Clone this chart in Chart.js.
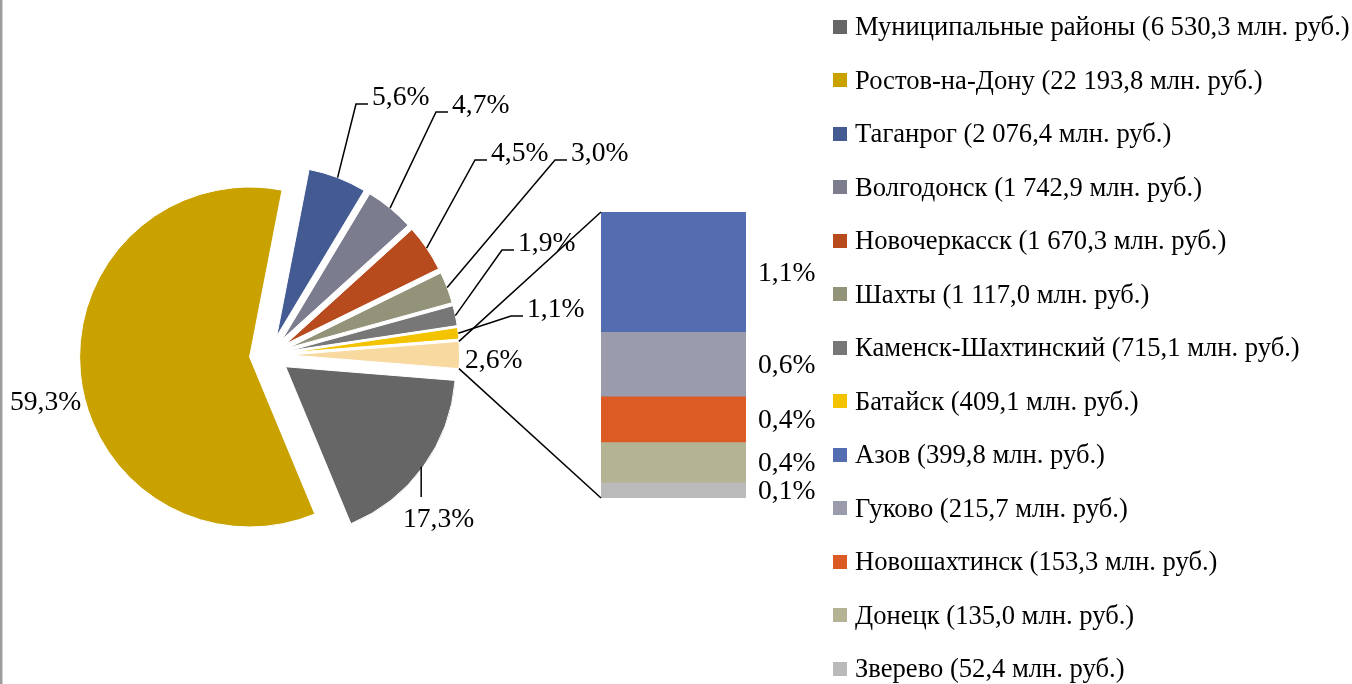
<!DOCTYPE html>
<html>
<head>
<meta charset="utf-8">
<script src="https://cdn.jsdelivr.net/npm/chart.js@4.4.1/dist/chart.umd.min.js"></script>
<style>
  body { margin: 0; background: #fff; }
  #wrap { position: relative; width: 1352px; height: 684px; overflow: hidden; background: #fff; }
  #wrap canvas { position: absolute; left: 0; top: 0; }
  #edge { position: absolute; left: 0; top: 0; width: 2px; height: 684px; background: #9d9d9d; border-right: 1px solid #d0d0d0; }
  #legend { position: absolute; left: 833px; top: 0; font-family: 'Liberation Serif', 'Times New Roman', serif; font-size: 26.6px; color: #000; }
  #legend .row { height: 53.5px; display: flex; align-items: center; white-space: nowrap; }
  #legend .box { width: 14px; height: 14px; margin-right: 8px; flex: none; }
</style>
</head>
<body>
<div id="wrap">
  <div id="edge"></div>
  <canvas id="pie" width="1352" height="684"></canvas>
  <canvas id="bar" width="1352" height="684"></canvas>
  <div id="legend"></div>
</div>
<script>
// main pie: cities and districts, mln rub
const pieNames = ['Муниципальные районы', 'Ростов-на-Дону', 'Таганрог', 'Волгодонск', 'Новочеркасск', 'Шахты', 'Каменск-Шахтинский', 'Батайск'];
const pieValues = [6530.3, 22193.8, 2076.4, 1742.9, 1670.3, 1117.0, 715.1, 409.1];
const pieColors = ['#666666', '#caa200', '#435a92', '#7b7d8e', '#b84b1e', '#939379', '#777777', '#f3c300'];
// small cities, shown in the bar
const barNames = ['Азов', 'Гуково', 'Новошахтинск', 'Донецк', 'Зверево'];
const barValues = [399.8, 215.7, 153.3, 135.0, 52.4];
const barColors = ['#536db0', '#9a9bac', '#dc5a24', '#b4b495', '#bababa'];
const otherColor = '#f8d9a0';
// percent labels as printed on the chart
const piePct = ['17,3%', '59,3%', '5,6%', '4,7%', '4,5%', '3,0%', '1,9%', '1,1%', '2,6%'];
const barPct = ['1,1%', '0,6%', '0,4%', '0,4%', '0,1%'];

// label placement: text x, baseline y, leader kind
const pieLabelPos = [
  [403, 527, 'v'], [10, 410, ''], [372, 105, 'h'], [452, 113, 'h'],
  [491, 161, 'h'], [571, 161, 'h'], [518, 251, 'h'], [527, 317, 'h'], [465, 368, '']
];

const labelFont = "27.6px 'Liberation Serif', 'Times New Roman', serif";
const explode = 20;

const otherTotal = barValues.reduce((a, b) => a + b, 0);
const allValues = pieValues.concat([otherTotal]);
const total = allValues.reduce((a, b) => a + b, 0);

function fmt(v) {
  const parts = v.toFixed(1).split('.');
  return parts[0].replace(/\B(?=(\d{3})+(?!\d))/g, ' ') + ',' + parts[1];
}

// legend
const legend = document.getElementById('legend');
pieNames.concat(barNames).forEach(function(name, i) {
  const val = i < pieNames.length ? pieValues[i] : barValues[i - pieNames.length];
  const col = i < pieNames.length ? pieColors[i] : barColors[i - pieNames.length];
  const row = document.createElement('div');
  row.className = 'row';
  row.innerHTML = '<span class="box" style="background:' + col + '"></span>' + name + ' (' + fmt(val) + ' млн. руб.)';
  legend.appendChild(row);
});

const explodePlugin = {
  id: 'explode',
  afterDatasetUpdate(chart, args) {
    args.meta.data.forEach(function(el) {
      const mid = (el.startAngle + el.endAngle) / 2;
      el.x += explode * Math.cos(mid);
      el.y += explode * Math.sin(mid);
    });
  }
};

const pieLabelPlugin = {
  id: 'pieLabels',
  afterDatasetsDraw(chart) {
    const ctx = chart.ctx;
    const arcs = chart.getDatasetMeta(0).data;
    ctx.save();
    ctx.strokeStyle = '#000';
    ctx.lineWidth = 1.5;
    ctx.font = labelFont;
    ctx.fillStyle = '#000';
    ctx.textBaseline = 'alphabetic';
    arcs.forEach(function(el, i) {
      const p = pieLabelPos[i];
      const mid = (el.startAngle + el.endAngle) / 2;
      const ax = el.x + el.outerRadius * Math.cos(mid);
      const ay = el.y + el.outerRadius * Math.sin(mid);
      if (p[2] === 'h') {
        ctx.beginPath();
        ctx.moveTo(ax, ay);
        ctx.lineTo(p[0] - 16, p[1] - 1);
        ctx.lineTo(p[0] - 4, p[1] - 1);
        ctx.stroke();
      } else if (p[2] === 'v') {
        ctx.beginPath();
        ctx.moveTo(ax - 2, ay);
        ctx.lineTo(ax - 2, p[1] - 30);
        ctx.stroke();
      }
      ctx.fillText(piePct[i], p[0], p[1]);
    });
    ctx.restore();
  }
};

const pieChart = new Chart(document.getElementById('pie'), {
  type: 'pie',
  data: {
    labels: pieNames.concat(['Прочие']),
    datasets: [{
      data: allValues,
      backgroundColor: pieColors.concat([otherColor]),
      borderColor: '#ffffff',
      borderWidth: 1,
      clip: false
    }]
  },
  options: {
    responsive: false,
    animation: false,
    events: [],
    radius: 170,
    rotation: 90 + otherTotal / total * 180,
    layout: { padding: { left: 0, top: 26, right: 1352 - 539, bottom: 0 } },
    plugins: { legend: { display: false }, tooltip: { enabled: false } }
  },
  plugins: [explodePlugin, pieLabelPlugin]
});

const barExtras = {
  id: 'barExtras',
  afterDatasetsDraw(chart) {
    const ctx = chart.ctx;
    let left = Infinity, top = Infinity, bottom = -Infinity;
    ctx.save();
    ctx.font = labelFont;
    ctx.fillStyle = '#000';
    ctx.textBaseline = 'middle';
    chart.data.datasets.forEach(function(ds, i) {
      const el = chart.getDatasetMeta(i).data[0];
      left = Math.min(left, el.x - el.width / 2);
      top = Math.min(top, el.y, el.base);
      bottom = Math.max(bottom, el.y, el.base);
      ctx.fillText(barPct[i], el.x + el.width / 2 + 12, (el.y + el.base) / 2 + 2);
    });
    // connector lines from the "other" slice to the bar
    const arcs = pieChart.getDatasetMeta(0).data;
    const o = arcs[arcs.length - 1];
    ctx.strokeStyle = '#000';
    ctx.lineWidth = 1.5;
    ctx.beginPath();
    ctx.moveTo(o.x + o.outerRadius * Math.cos(o.startAngle), o.y + o.outerRadius * Math.sin(o.startAngle));
    ctx.lineTo(left, top);
    ctx.moveTo(o.x + o.outerRadius * Math.cos(o.endAngle), o.y + o.outerRadius * Math.sin(o.endAngle));
    ctx.lineTo(left, bottom);
    ctx.stroke();
    ctx.restore();
  }
};

new Chart(document.getElementById('bar'), {
  type: 'bar',
  data: {
    labels: ['Прочие'],
    datasets: barNames.map(function(n, i) {
      return {
        label: n,
        data: [barValues[i]],
        backgroundColor: barColors[i],
        borderWidth: 0,
        categoryPercentage: 1,
        barPercentage: 1
      };
    })
  },
  options: {
    responsive: false,
    animation: false,
    events: [],
    layout: { padding: { left: 601, right: 1352 - 746, top: 212, bottom: 684 - 498 } },
    scales: {
      x: { display: false, stacked: true },
      y: { display: false, stacked: true, reverse: true, min: 0, max: otherTotal }
    },
    plugins: { legend: { display: false }, tooltip: { enabled: false } }
  },
  plugins: [barExtras]
});
</script>
</body>
</html>
